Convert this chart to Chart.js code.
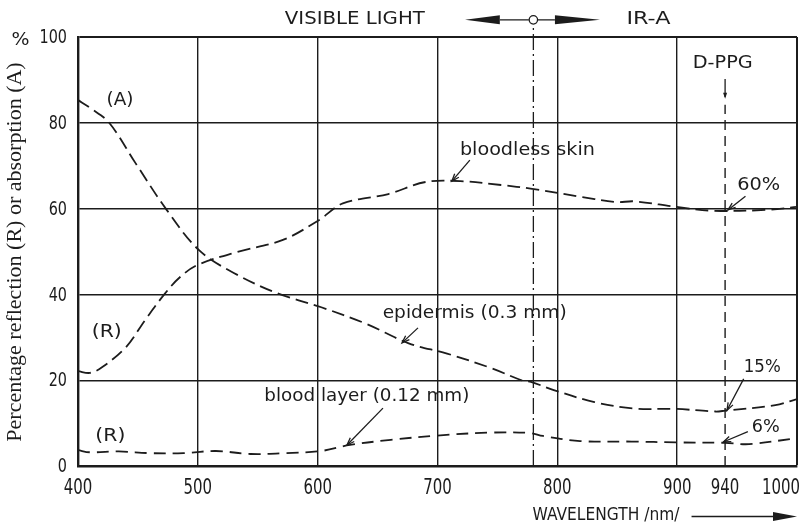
<!DOCTYPE html>
<html>
<head>
<meta charset="utf-8">
<script src="https://cdn.jsdelivr.net/npm/chart.js@4.4.1/dist/chart.umd.min.js"></script>
<style>
  html, body { margin: 0; padding: 0; background: #fff; }
  #wrap { width: 812px; height: 526px; }
</style>
</head>
<body>
<div id="wrap"><canvas id="c" width="812" height="526"></canvas></div>
<script>
// Axis ticks
const wavelengthTicks = [400, 500, 600, 700, 800, 900, 940, 1000];
const percentTicks = [0, 20, 40, 60, 80, 100];

// Epidermis (0.3 mm), absorption (A)
const epidermisNm = [400, 410, 426, 448, 474, 501, 530, 566, 603, 640, 676, 708, 745, 771, 778, 797, 831, 864, 899, 932, 940, 982, 1000];
const epidermisA  = [85.3, 83.5, 80, 70.6, 59.7, 50.3, 45, 40.3, 37, 33.2, 28.6, 26.2, 22.8, 19.9, 19.6, 17.7, 14.9, 13.4, 13.3, 12.7, 12.9, 14.2, 15.6];

// Bloodless skin, reflection (R)
const skinNm = [400, 410, 420, 440, 456, 472, 485, 500, 533, 571, 601, 621, 659, 690, 719, 753, 779, 821, 849, 864, 899, 930, 975, 1000];
const skinR  = [22.1, 21.7, 23, 27.7, 34, 40, 44, 46.9, 49.9, 52.7, 57.3, 61.2, 63.4, 66.2, 66.4, 65.5, 64.6, 62.7, 61.5, 61.7, 60.4, 59.5, 59.7, 60.4];

// Blood layer (0.12 mm), reflection (R)
const bloodNm = [400, 410, 434, 460, 488, 515, 544, 574, 603, 627, 661, 705, 746, 777, 788, 819, 862, 899, 940, 960, 1000];
const bloodR  = [3.7, 3.2, 3.4, 3.0, 3.0, 3.5, 2.8, 3.0, 3.5, 4.9, 6.1, 7.2, 7.8, 7.7, 7.0, 5.8, 5.7, 5.5, 5.4, 5.1, 6.5];

// Boundary between visible light and IR-A, and the D-PPG wavelength
const boundaryNm = 780;
const dppgNm = 940;

const INK = '#1c1c1c';
const SANS = '"DejaVu Sans", sans-serif';

const toPoints = (xs, ys) => xs.map((x, i) => ({ x, y: ys[i] }));

const curveStyle = {
  borderColor: INK,
  borderWidth: 1.8,
  borderDash: [13, 6],
  pointRadius: 0,
  tension: 0.35,
  fill: false
};

// Annotation texts, placed in data units (nm, %)
const notes = [
  { text: 'VISIBLE LIGHT', x: 631, y: 104, size: 17, width: 140 },
  { text: 'IR-A', x: 876, y: 104, size: 17, width: 44 },
  { text: 'D-PPG', x: 938, y: 93.9, size: 18, width: 60 },
  { text: '(A)', x: 435, y: 85.1, size: 17, width: 27 },
  { text: '(R)', x: 424, y: 31, size: 17, width: 30 },
  { text: '(R)', x: 427, y: 6.8, size: 17, width: 30 },
  { text: 'bloodless skin', x: 775, y: 73.5, size: 18, width: 135 },
  { text: 'epidermis (0.3 mm)', x: 731, y: 35.7, size: 18, width: 184 },
  { text: 'blood layer (0.12 mm)', x: 641, y: 16.3, size: 18, width: 205 },
  { text: '60%', x: 968, y: 65.4, size: 18, width: 43 },
  { text: '15%', x: 971, y: 23.0, size: 18, width: 37 },
  { text: '6%', x: 974, y: 8.9, size: 18, width: 28 },
  { text: 'WAVELENGTH /nm/', x: 840.6, y: -11.4, size: 18, width: 147 }
];

// Leader lines from labels to curves (from -> to), arrowhead at the curve end
const leaders = [
  [727, 71.3, 712, 66.4],
  [683.7, 32.2, 670.4, 28.7],
  [654.5, 13.5, 624.5, 4.9],
  [957, 62.9, 942.4, 59.7],
  [955.5, 20.3, 941.6, 13.0],
  [959, 8.0, 938.5, 5.6]
];

function drawText(ctx, text, cx, cy, size, width, family) {
  ctx.save();
  ctx.font = size + 'px ' + (family || SANS);
  const w = ctx.measureText(text).width;
  const s = width ? width / w : 1;
  ctx.translate(cx, cy);
  ctx.scale(s, 1);
  ctx.textAlign = 'center';
  ctx.textBaseline = 'middle';
  ctx.fillStyle = INK;
  ctx.fillText(text, 0, 0);
  ctx.restore();
}

function openHead(ctx, x1, y1, x2, y2, len, spread) {
  const a = Math.atan2(y2 - y1, x2 - x1);
  ctx.beginPath();
  ctx.moveTo(x2 - len * Math.cos(a - spread), y2 - len * Math.sin(a - spread));
  ctx.lineTo(x2, y2);
  ctx.lineTo(x2 - len * Math.cos(a + spread), y2 - len * Math.sin(a + spread));
  ctx.stroke();
}

function filledHead(ctx, x1, y1, x2, y2, len, half) {
  const a = Math.atan2(y2 - y1, x2 - x1);
  const bx = x2 - len * Math.cos(a), by = y2 - len * Math.sin(a);
  ctx.beginPath();
  ctx.moveTo(x2, y2);
  ctx.lineTo(bx + half * Math.sin(a), by - half * Math.cos(a));
  ctx.lineTo(bx - half * Math.sin(a), by + half * Math.cos(a));
  ctx.closePath();
  ctx.fill();
}

const paperPlugin = {
  id: 'paper',
  beforeDraw(chart) {
    const ctx = chart.ctx;
    ctx.save();
    ctx.fillStyle = '#fff';
    ctx.fillRect(0, 0, chart.width, chart.height);
    ctx.restore();
  },
  afterDraw(chart) {
    const ctx = chart.ctx;
    const xs = chart.scales.x, ys = chart.scales.y;
    const area = chart.chartArea;
    const px = v => xs.getPixelForValue(v);
    const py = v => ys.getPixelForValue(v);

    ctx.save();
    ctx.strokeStyle = INK;
    ctx.fillStyle = INK;

    // x tick labels
    ctx.font = '22px ' + SANS;
    wavelengthTicks.forEach(v => {
      const label = String(v);
      const w = ctx.measureText(label).width * 0.68;
      const cx = Math.min(px(v), chart.width - 12 - w / 2);
      drawText(ctx, label, cx, area.bottom + 22, 22, w);
    });

    // y tick labels
    ctx.font = '20px ' + SANS;
    percentTicks.forEach(v => {
      const label = String(v);
      const w = ctx.measureText(label).width * 0.72;
      drawText(ctx, label, area.left - 11 - w / 2, py(v) + 1, 20, w);
    });
    drawText(ctx, '%', px(352), py(99.3), 18, 18);

    // y axis title
    ctx.save();
    ctx.translate(15, 252);
    ctx.rotate(-Math.PI / 2);
    ctx.font = '22px "Liberation Serif", serif';
    ctx.textAlign = 'center';
    ctx.textBaseline = 'middle';
    ctx.fillText('Percentage reflection (R) or absorption (A)', 0, 0);
    ctx.restore();

    // annotation texts
    notes.forEach(n => drawText(ctx, n.text, px(n.x), py(n.y), n.size, n.width));

    // leader lines
    ctx.lineWidth = 1.3;
    leaders.forEach(([x1, y1, x2, y2]) => {
      ctx.beginPath();
      ctx.moveTo(px(x1), py(y1));
      ctx.lineTo(px(x2), py(y2));
      ctx.stroke();
      openHead(ctx, px(x1), py(y1), px(x2), py(y2), 8, 0.35);
    });

    // visible / IR-A indicator with circle on the boundary
    const yTop = py(104);
    const cx = px(boundaryNm);
    ctx.lineWidth = 1.3;
    ctx.beginPath();
    ctx.moveTo(px(752), yTop); ctx.lineTo(cx - 4.5, yTop);
    ctx.moveTo(cx + 4.5, yTop); ctx.lineTo(px(798), yTop);
    ctx.stroke();
    filledHead(ctx, px(760), yTop, px(723), yTop, px(752) - px(723), 4.5);
    filledHead(ctx, px(790), yTop, px(835.6), yTop, px(835.6) - px(798), 4.5);
    ctx.beginPath();
    ctx.arc(cx, yTop, 4.2, 0, Math.PI * 2);
    ctx.fillStyle = '#fff';
    ctx.fill();
    ctx.stroke();
    ctx.fillStyle = INK;

    // D-PPG pointer
    const dx = px(dppgNm);
    ctx.beginPath();
    ctx.moveTo(dx, py(90.2)); ctx.lineTo(dx, py(86));
    ctx.stroke();
    filledHead(ctx, dx, py(88), dx, py(85.6), 6, 2);

    // wavelength arrow
    const ya = py(-11.8);
    ctx.lineWidth = 1.5;
    ctx.beginPath();
    ctx.moveTo(px(912), ya); ctx.lineTo(px(985), ya);
    ctx.stroke();
    filledHead(ctx, px(912), ya, px(1000), ya, 24, 4.5);

    ctx.restore();
  }
};

new Chart(document.getElementById('c'), {
  type: 'line',
  data: {
    datasets: [
      { ...curveStyle, label: 'epidermis (0.3 mm)', data: toPoints(epidermisNm, epidermisA) },
      { ...curveStyle, label: 'bloodless skin', data: toPoints(skinNm, skinR) },
      { ...curveStyle, label: 'blood layer (0.12 mm)', borderDash: [12, 7], data: toPoints(bloodNm, bloodR) },
      {
        label: 'visible / IR-A boundary',
        data: [{ x: boundaryNm, y: 0 }, { x: boundaryNm, y: 103 }],
        borderColor: INK, borderWidth: 1.3, borderDash: [16, 4, 2, 4],
        pointRadius: 0, clip: false
      },
      {
        label: 'D-PPG',
        data: [{ x: dppgNm, y: 0 }, { x: dppgNm, y: 84.2 }],
        borderColor: INK, borderWidth: 1.4, borderDash: [10, 6],
        pointRadius: 0, clip: false
      }
    ]
  },
  options: {
    responsive: false,
    animation: false,
    events: [],
    layout: { padding: { left: 0, right: 15, top: 37, bottom: 0 } },
    plugins: { legend: { display: false }, tooltip: { enabled: false } },
    scales: {
      x: {
        type: 'linear',
        min: 400,
        max: 1000,
        afterBuildTicks: s => { s.ticks = wavelengthTicks.map(v => ({ value: v })); },
        afterFit: s => { s.height = 60; },
        ticks: { display: false },
        grid: {
          drawTicks: false,
          color: c => (c.tick && c.tick.value === dppgNm) ? 'rgba(0,0,0,0)' : INK,
          lineWidth: c => (c.tick && c.tick.value === 1000) ? 2 : 1.4
        },
        border: { display: true, color: INK, width: 2.6 }
      },
      y: {
        min: 0,
        max: 100,
        afterBuildTicks: s => { s.ticks = percentTicks.map(v => ({ value: v })); },
        afterFit: s => { s.width = 78; },
        ticks: { display: false },
        grid: {
          drawTicks: false,
          color: INK,
          lineWidth: c => (c.tick && c.tick.value === 100) ? 2 : 1.4
        },
        border: { display: true, color: INK, width: 2.4 }
      }
    }
  },
  plugins: [paperPlugin]
});
</script>
</body>
</html>
